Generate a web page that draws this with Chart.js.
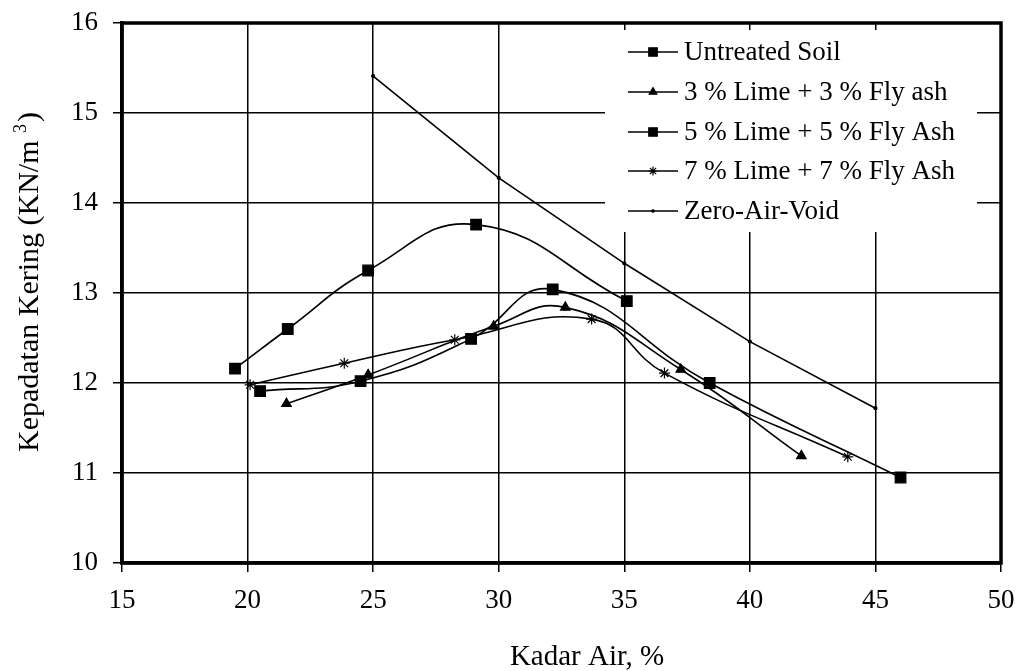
<!DOCTYPE html>
<html>
<head>
<meta charset="utf-8">
<script src="https://cdn.jsdelivr.net/npm/chart.js@4.4.0/dist/chart.umd.min.js"></script>
<style>
  html, body { margin: 0; padding: 0; background: #fff; }
</style>
</head>
<body>
<canvas id="compaction" width="1016" height="671"></canvas>
<script>
// series names, in legend order
const seriesNames = ['Untreated Soil', '3 % Lime + 3 % Fly ash', '5 % Lime + 5 % Fly Ash', '7 % Lime + 7 % Fly Ash', 'Zero-Air-Void'];

// water content (%) and dry density (kN/m3)
const untreatedX = [19.5, 21.6, 24.8, 29.1, 35.1];
const untreatedY = [12.16, 12.6, 13.25, 13.76, 12.91];
const lime3X = [21.55, 24.8, 29.8, 32.65, 37.25, 42.05];
const lime3Y = [11.77, 12.09, 12.63, 12.84, 12.15, 11.19];
const lime5X = [20.5, 24.5, 28.9, 32.15, 38.4, 46.0];
const lime5Y = [11.91, 12.02, 12.49, 13.04, 12.0, 10.95];
const lime7X = [20.1, 23.85, 28.25, 33.7, 36.6, 43.9];
const lime7Y = [11.98, 12.22, 12.48, 12.71, 12.11, 11.18];
const zavX = [25, 30, 35, 40, 45];
const zavY = [15.41, 14.28, 13.33, 12.46, 11.72];

const xTicks = [15, 20, 25, 30, 35, 40, 45, 50];
const yTicks = [10, 11, 12, 13, 14, 15, 16];

const xTitle = 'Kadar Air, %';
const yTitle = 'Kepadatan Kering (KN/m ';

const FONT = "'Liberation Serif', 'Times New Roman', serif";

function toPoints(xs, ys) {
    return xs.map((x, i) => ({x: x, y: ys[i]}));
}

function series(label, xs, ys, style, radius, tension) {
    return {
        label: label,
        data: toPoints(xs, ys),
        borderColor: '#000',
        backgroundColor: '#000',
        borderWidth: 1.6,
        pointStyle: style,
        pointRadius: radius,
        pointBorderWidth: 1.2,
        pointBackgroundColor: '#000',
        pointBorderColor: '#000',
        tension: tension,
        showLine: true
    };
}

const datasets = [
    series(seriesNames[0], untreatedX, untreatedY, 'rect', 7.5, 0.45),
    series(seriesNames[1], lime3X, lime3Y, 'triangle', 5.5, 0.45),
    series(seriesNames[2], lime5X, lime5Y, 'rect', 7.5, 0.45),
    series(seriesNames[3], lime7X, lime7Y, 'star', 5.5, 0.45),
    series(seriesNames[4], zavX, zavY, 'circle', 1.5, 0)
];

function noLabelPadding(scale) {
    scale.paddingTop = 0;
    scale.paddingBottom = 0;
    scale.paddingLeft = 0;
    scale.paddingRight = 0;
}

// frame, boxed legend and axis titles drawn the way the spreadsheet did
const paperPlugin = {
    id: 'paper',
    afterDraw(chart) {
        const {ctx, chartArea: a} = chart;
        ctx.save();

        // legend box (white, no border)
        ctx.fillStyle = '#fff';
        ctx.fillRect(605, 30, 372, 202);
        const rows = [52, 92, 132, 171, 211];
        ctx.font = '27px ' + FONT;
        ctx.textBaseline = 'middle';
        ctx.textAlign = 'left';
        chart.data.datasets.forEach((ds, i) => {
            const y = rows[i];
            ctx.strokeStyle = '#000';
            ctx.lineWidth = 1.6;
            ctx.beginPath();
            ctx.moveTo(628, y);
            ctx.lineTo(678, y);
            ctx.stroke();
            ctx.fillStyle = '#000';
            ctx.lineWidth = 1.2;
            Chart.helpers.drawPoint(ctx, {
                pointStyle: ds.pointStyle,
                radius: ds.pointStyle === 'circle' ? 1.2 : ds.pointRadius * 0.8,
                rotation: 0,
                borderWidth: 1.2
            }, 653, y);
            ctx.fillStyle = '#000';
            ctx.fillText(ds.label, 684, y + 1);
        });

        // thick plot frame
        ctx.strokeStyle = '#000';
        ctx.lineWidth = 3.5;
        ctx.strokeRect(a.left, a.top, a.right - a.left, a.bottom - a.top);

        // x axis title
        ctx.fillStyle = '#000';
        ctx.font = '29px ' + FONT;
        ctx.textAlign = 'center';
        ctx.textBaseline = 'middle';
        ctx.fillText(xTitle, 587, 657);

        // y axis title with superscript
        ctx.translate(30, 283);
        ctx.rotate(-Math.PI / 2);
        ctx.font = '30px ' + FONT;
        const mainW = ctx.measureText(yTitle).width;
        ctx.font = '18px ' + FONT;
        const supW = ctx.measureText('3').width;
        ctx.font = '30px ' + FONT;
        const closeW = ctx.measureText(')').width;
        const total = mainW + supW + closeW;
        let x0 = -total / 2;
        ctx.textAlign = 'left';
        ctx.fillText(yTitle, x0, 0);
        ctx.font = '18px ' + FONT;
        ctx.fillText('3', x0 + mainW, -9);
        ctx.font = '30px ' + FONT;
        ctx.fillText(')', x0 + mainW + supW + 2, 0);

        ctx.restore();
    }
};

Chart.defaults.font.family = FONT;
Chart.defaults.color = '#000';

window.compactionChart = new Chart(document.getElementById('compaction'), {
    type: 'scatter',
    data: {datasets: datasets},
    options: {
        responsive: false,
        animation: false,
        layout: {padding: {top: 23, right: 15, left: 0, bottom: 0}},
        plugins: {
            legend: {display: false},
            tooltip: {enabled: false}
        },
        scales: {
            x: {
                type: 'linear',
                min: xTicks[0],
                max: xTicks[xTicks.length - 1],
                afterBuildTicks: (scale) => { scale.ticks = xTicks.map(v => ({value: v})); },
                afterFit: (scale) => { scale.height = 108; noLabelPadding(scale); },
                grid: {color: '#000', lineWidth: 1.5, tickLength: 9, drawTicks: true},
                border: {display: true, color: '#000', width: 3.5},
                ticks: {font: {size: 27}, padding: 13, maxRotation: 0}
            },
            y: {
                type: 'linear',
                min: yTicks[0],
                max: yTicks[yTicks.length - 1],
                afterBuildTicks: (scale) => { scale.ticks = yTicks.map(v => ({value: v})); },
                afterFit: (scale) => { scale.width = 122; noLabelPadding(scale); },
                grid: {color: '#000', lineWidth: 1.5, tickLength: 9, drawTicks: true},
                border: {display: true, color: '#000', width: 3.5},
                ticks: {font: {size: 27}, padding: 15}
            }
        }
    },
    plugins: [paperPlugin]
});
</script>
</body>
</html>
